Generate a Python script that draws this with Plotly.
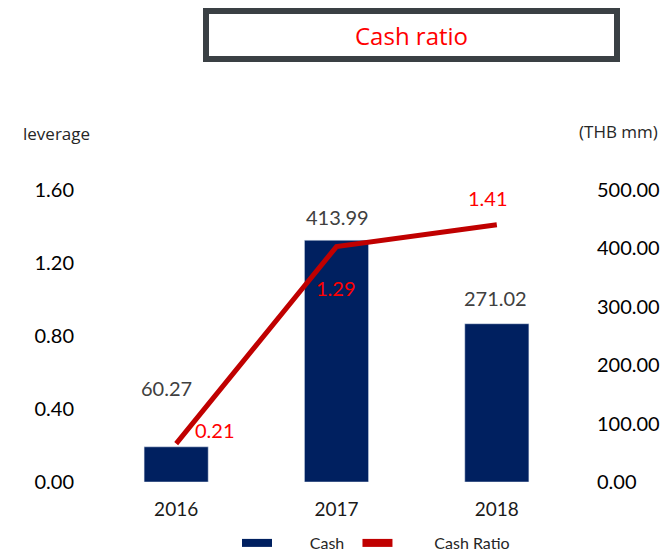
import plotly.graph_objects as go

# ---- data ----
years = ["2016", "2017", "2018"]
cash = [60.27, 413.99, 271.02]
cash_ratio = [0.21, 1.29, 1.41]
cash_labels = ["60.27", "413.99", "271.02"]
ratio_labels = ["0.21", "1.29", "1.41"]
left_ticks = [0.0, 0.4, 0.8, 1.2, 1.6]
right_ticks = [0, 100, 200, 300, 400, 500]

# page body has an 8px margin; figure is sized so it fills the window from there
OFF = 8
W, H = 671 - OFF, 552 - OFF
# plot area in window pixels: left 96, right 577, top 190, bottom 482
PL, PR, PT, PB = 96, 577, 190, 482
L, R, T, B = PL - OFF, W - (PR - OFF), PT - OFF, H - (PB - OFF)
PW = PR - PL
PH = PB - PT


def px2x(px):
    return (px - PL) / PW


def px2y(py):
    return (PB - py) / PH


NAVY = "#002060"
RED_LINE = "#C00000"
RED_TXT = "#FF0000"

fig = go.Figure()

fig.add_trace(go.Bar(x=years, y=cash, marker_color=NAVY, width=0.4,
                     yaxis="y", showlegend=False, hoverinfo="skip"))
fig.add_trace(go.Scatter(x=years, y=cash_ratio, mode="lines",
                         line=dict(color=RED_LINE, width=5),
                         yaxis="y2", showlegend=False, hoverinfo="skip"))
# legend entries
NB = "\u00a0"
fig.add_trace(go.Scatter(x=[None], y=[None], mode="lines", name=NB * 8 + "Cash" + NB * 2,
                         line=dict(color=NAVY, width=8)))
fig.add_trace(go.Scatter(x=[None], y=[None], mode="lines", name=NB * 9 + "Cash Ratio",
                         line=dict(color=RED_LINE, width=8)))

LABEL_FONT = "Lato, sans-serif"
annotations = []
bar_offsets = [(-10, 59), (1, 23), (-1, 26)]
for i, (v, t, (dx, dy)) in enumerate(zip(cash, cash_labels, bar_offsets)):
    annotations.append(dict(x=i, y=v, xref="x", yref="y", text=t, showarrow=False,
                            xshift=dx, yshift=dy,
                            font=dict(family=LABEL_FONT, size=20, color="#404040")))
ratio_offsets = [(39, 14), (-1, -41), (-9, 27)]
for i, (v, t, (dx, dy)) in enumerate(zip(cash_ratio, ratio_labels, ratio_offsets)):
    annotations.append(dict(x=i, y=v, xref="x", yref="y2", text=t, showarrow=False,
                            xshift=dx, yshift=dy,
                            font=dict(family=LABEL_FONT, size=20, color=RED_TXT)))

annotations.append(dict(x=px2x(56), y=px2y(133), xref="paper", yref="paper", text="leverage",
                        xanchor="center", yanchor="middle", showarrow=False,
                        font=dict(family="Open Sans, sans-serif", size=17, color="#262626")))
annotations.append(dict(x=px2x(618), y=px2y(131), xref="paper", yref="paper", text="(THB mm)",
                        xanchor="center", yanchor="middle", showarrow=False,
                        font=dict(family="Open Sans, sans-serif", size=17, color="#262626")))
annotations.append(dict(x=px2x(411.5), y=px2y(35), xref="paper", yref="paper", text="Cash ratio",
                        xanchor="center", yanchor="middle", showarrow=False,
                        font=dict(family="Open Sans, sans-serif", size=24, color=RED_TXT)))

shapes = [dict(type="rect", xref="paper", yref="paper",
               x0=px2x(206), x1=px2x(617), y0=px2y(59), y1=px2y(11),
               line=dict(color="#3A4044", width=6), fillcolor="white", layer="below")]

tickfont = dict(family="Lato, sans-serif", size=20, color="#000000")

fig.update_layout(
    width=W, height=H,
    margin=dict(l=L, r=R, t=T, b=B, autoexpand=False),
    plot_bgcolor="white", paper_bgcolor="white",
    xaxis=dict(type="category", range=[-0.5, 2.5], showgrid=False, zeroline=False,
               showline=False, ticks="", tickfont=dict(family="Lato, sans-serif", size=19, color="#1a1a1a"),
               ticklabelstandoff=14),
    yaxis=dict(side="right", range=[0, 500], tickvals=right_ticks,
               ticktext=[f"{v:.2f}" for v in right_ticks], showgrid=False, zeroline=False,
               showline=False, ticks="", tickfont=tickfont, ticklabelstandoff=19),
    yaxis2=dict(side="left", overlaying="y", range=[0, 1.6], tickvals=left_ticks,
                ticktext=[f"{v:.2f}" for v in left_ticks], showgrid=False, zeroline=False,
                showline=False, ticks="", tickfont=tickfont, ticklabelstandoff=21),
    legend=dict(orientation="h", x=px2x(237), y=px2y(543), xanchor="left", yanchor="middle",
                font=dict(family="Lato, sans-serif", size=16, color="#262626"),
                bgcolor="rgba(0,0,0,0)"),
    annotations=annotations,
    shapes=shapes,
    bargap=0.6,
)

fig.write_html("out.html")
